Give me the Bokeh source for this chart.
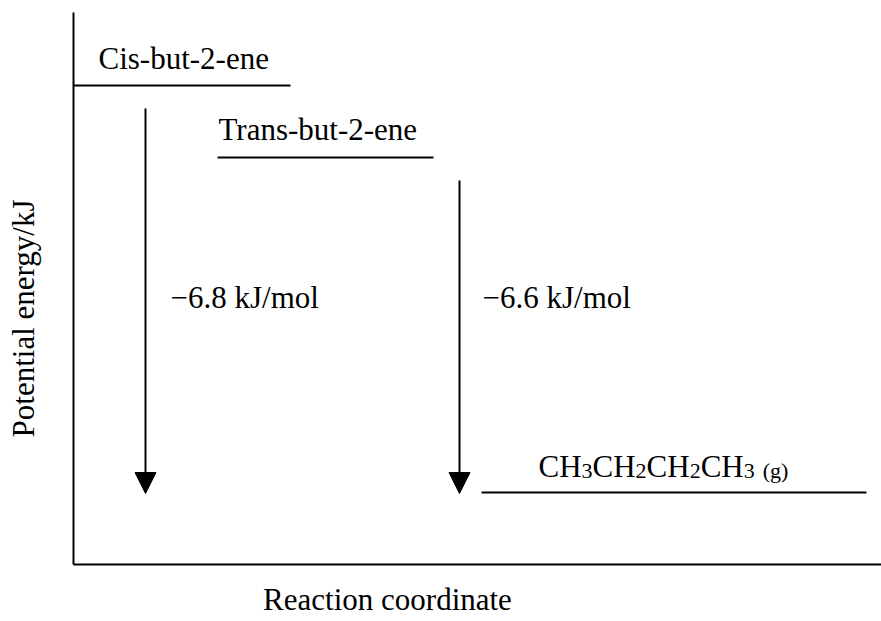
from bokeh.plotting import figure
from bokeh.models import Range1d, ColumnDataSource, Arrow, NormalHead
from bokeh.core.properties import value
from bokeh.embed import file_html
from bokeh.resources import INLINE
import math

# ---- data (diagram units: 1 unit = 1 px, origin at the axes corner) ----
level_names = ["Cis-but-2-ene", "Trans-but-2-ene", "butane"]
level_energy = [479, 407, 72]          # height of each energy level above the x axis
level_x0 = [0, 144, 408]
level_x1 = [217, 360, 793]

arrow_labels = ["\u22126.8 kJ/mol", "\u22126.6 kJ/mol"]
arrow_x = [72, 386]
arrow_top = [456, 384]

x_title = "Reaction coordinate"
y_title = "Potential energy/kJ"
formula_parts = ["CH", "3", "CH", "2", "CH", "2", "CH", "3", "(g)"]
formula_sub = [False, True, False, True, False, True, False, True, True]

FONT = value("Liberation Serif")
MAIN = 31
SUB = 22
DY = 10   # baseline correction for the svg renderer
TIMES = {'C': 667, 'H': 722, '2': 500, '3': 500, ' ': 250, '(': 333, 'g': 500, ')': 333}


def tw(s, size):
    return sum(TIMES[c] for c in s) / 1000.0 * size


p = figure(width=881, height=621, output_backend="svg", toolbar_location=None,
           x_axis_type=None, y_axis_type=None,
           x_range=Range1d(-73, 808), y_range=Range1d(-57, 564),
           min_border=0, min_border_left=0, min_border_right=0,
           min_border_top=0, min_border_bottom=0)
p.grid.visible = False
p.outline_line_color = None
p.background_fill_color = "white"
p.border_fill_color = "white"

# axes
p.segment(x0=[0, 0], y0=[0, 0], x1=[0, 808], y1=[552, 0], line_color="black", line_width=2)

# energy levels
p.segment(x0=level_x0, x1=level_x1, y0=level_energy, y1=level_energy,
          line_color="black", line_width=2)

# arrows
asrc = ColumnDataSource(dict(
    xs=arrow_x, ys=arrow_top,
    xe=arrow_x, ye=[level_energy[2] - 1] * len(arrow_x)))
p.add_layout(Arrow(x_start="xs", y_start="ys", x_end="xe", y_end="ye", source=asrc,
                   line_width=2, line_color="black",
                   end=NormalHead(size=21, fill_color="black", line_color="black", line_width=1)))

# level labels
p.text(x=[25, 145], y=[496 + DY, 425 + DY], text=level_names[:2], text_font=FONT,
       text_font_size=f"{MAIN}px", text_baseline="alphabetic", text_align="left",
       text_color="black")

# arrow labels
p.text(x=[97, 409], y=[257 + DY, 257 + DY], text=arrow_labels, text_font=FONT,
       text_font_size=f"{MAIN}px", text_baseline="alphabetic", text_align="left",
       text_color="black")

# butane formula with subscripts
fx, fy, ft, fs = [], [], [], []
cx = 465
base = 88 + DY
for part, sub in zip(formula_parts, formula_sub):
    size = SUB if sub else MAIN
    if part.startswith("("):
        cx += 8
    fx.append(cx)
    fy.append(base - 4 if sub else base)
    ft.append(part)
    fs.append(f"{size}px")
    cx += tw(part, size)
p.text(x=fx, y=fy, text=ft, text_font=FONT, text_font_size=fs,
       text_baseline="alphabetic", text_align="left", text_color="black")

# axis titles
p.text(x=[314], y=[-45 + DY], text=[x_title], text_font=FONT, text_font_size=f"{MAIN}px",
       text_baseline="alphabetic", text_align="center", text_color="black")
p.text(x=[-40 - DY], y=[246], text=[y_title], text_font=FONT, text_font_size=f"{MAIN}px",
       text_baseline="alphabetic", text_align="center", angle=math.pi / 2,
       text_color="black")

open("out.html", "w").write(file_html(p, INLINE))
